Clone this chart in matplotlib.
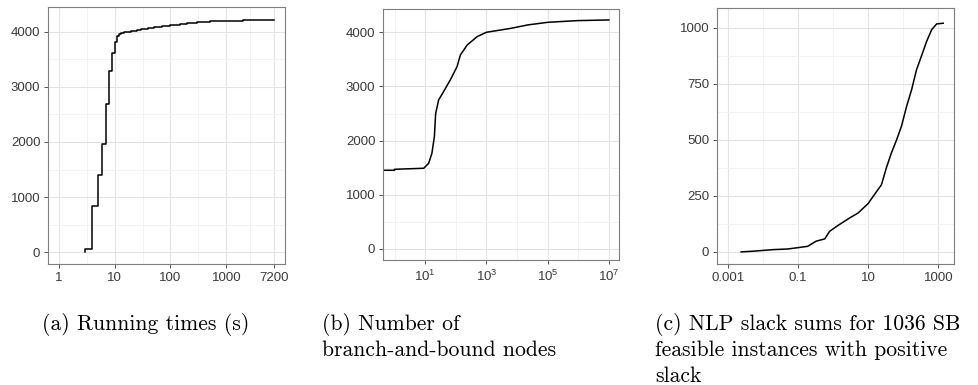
import numpy as np
import matplotlib
matplotlib.use("Agg")
import matplotlib.pyplot as plt
from matplotlib.ticker import FixedLocator, NullFormatter

plt.rcParams['font.family'] = ['Liberation Sans', 'DejaVu Sans']
plt.rcParams['mathtext.fontset'] = 'custom'
plt.rcParams['mathtext.rm'] = 'Liberation Sans'

# (a) running times, cumulative number of instances solved
run_time = [3, 3, 4, 5, 6, 7, 8, 9, 10, 11, 12, 13, 14, 15, 17, 20, 25, 30, 40, 50, 70,
            100, 150, 200, 300, 500, 700, 1000, 2000, 4000, 7200]
run_count = [0, 55, 830, 1406, 1964, 2690, 3297, 3618, 3812, 3921, 3955, 3970, 3980, 3988, 4000, 4015, 4030, 4045, 4068, 4085, 4105,
             4128, 4148, 4162, 4178, 4190, 4197, 4202, 4207, 4210, 4212]
run_ticks = [1, 10, 100, 1000, 7200]
run_labels = ['1', '10', '100', '1000', '7200']

# (b) branch-and-bound nodes (0 nodes is drawn at the panel edge, like -Inf in ggplot)
nodes = [0, 0, 1, 1, 9, 13, 16.6, 20, 22, 27.5, 40, 66, 110, 141, 236, 500, 1000, 6300, 22000, 1e5, 9e5, 1e7]
nodes_count = [0, 1452, 1452, 1470, 1489, 1580, 1766, 2074, 2500, 2750, 2905, 3120, 3366, 3580, 3766, 3920, 4000, 4073, 4135, 4184, 4215, 4228]
nodes_ticks = [1e1, 1e3, 1e5, 1e7]
nodes_labels = [r'$\mathregular{10^{1}}$', r'$\mathregular{10^{3}}$', r'$\mathregular{10^{5}}$', r'$\mathregular{10^{7}}$']

# (c) NLP slack sums
slack = [0.0024, 0.0051, 0.019, 0.051, 0.1, 0.19, 0.33, 0.58, 0.80, 1.38, 3.0, 5.2, 10, 13.9, 24,
         33, 46, 65, 89, 125, 174, 240, 330, 465, 650, 900, 1380]
slack_count = [0, 3, 10, 13, 19, 25, 48, 58, 92, 118, 152, 174, 216, 248, 300,
               375, 442, 501, 561, 650, 725, 814, 874, 940, 993, 1018, 1021]
slack_ticks = [0.001, 0.1, 10, 1000]
slack_labels = ['0.001', '0.1', '10', '1000']

captions = [
    ["(a) Running times (s)"],
    ["(b) Number of", "branch-and-bound nodes"],
    ["(c) NLP slack sums for 1036 SB", "feasible instances with positive", "slack"],
]

W, H = 979, 385
fig = plt.figure(figsize=(W / 100, H / 100), dpi=100)


def panel(box, xlim, ylim, xticks, xlabels, xminor, yticks, yminor):
    l, r, t, b = box
    ax = fig.add_axes([l / W, 1 - b / H, (r - l) / W, (b - t) / H])
    ax.set_xscale('log')
    ax.set_xlim(*xlim)
    ax.set_ylim(*ylim)
    ax.xaxis.set_major_locator(FixedLocator(xticks))
    ax.set_xticklabels(xlabels)
    ax.xaxis.set_minor_locator(FixedLocator(xminor))
    ax.xaxis.set_minor_formatter(NullFormatter())
    ax.set_yticks(yticks)
    ax.set_yticks(yminor, minor=True)
    ax.grid(True, which='minor', color='#F3F3F3', lw=0.7, zorder=0)
    ax.grid(True, which='major', color='#E3E3E3', lw=0.8, zorder=0)
    ax.set_axisbelow(True)
    ax.tick_params(which='minor', length=0)
    ax.tick_params(which='major', length=3, width=0.7, color='#555555',
                   labelsize=9.5, labelcolor='#3A3A3A')
    ax.tick_params(axis='y', pad=2.5)
    ax.tick_params(axis='x', pad=3)
    for s in ax.spines.values():
        s.set_color('#7F7F7F')
        s.set_linewidth(0.8)
    return ax


ax1 = panel((48, 285, 7, 264), (10 ** -0.193, 10 ** 4.05), (-215, 4450),
            run_ticks, run_labels, [10 ** 0.5, 10 ** 1.5, 10 ** 2.5, np.sqrt(1000 * 7200)],
            [0, 1000, 2000, 3000, 4000], [500, 1500, 2500, 3500])
ax1.plot(run_time, run_count, color='black', lw=1.1, drawstyle='steps-post')

xl2 = (10 ** -0.377, 10 ** 7.33)
ax2 = panel((383, 619, 9, 260), xl2, (-205, 4430),
            nodes_ticks, nodes_labels, [1e0, 1e2, 1e4, 1e6],
            [0, 1000, 2000, 3000, 4000], [500, 1500, 2500, 3500])
nodes_x = np.where(np.array(nodes) > 0, nodes, xl2[0])
ax2.plot(nodes_x, nodes_count, color='black', lw=1.1)

ax3 = panel((717, 954, 8, 264), (10 ** -3.307, 10 ** 3.447), (-54, 1089),
            slack_ticks, slack_labels, [0.01, 1, 100],
            [0, 250, 500, 750, 1000], [125, 375, 625, 875])
ax3.plot(slack, slack_count, color='black', lw=1.1)

cap_x = [42, 322, 655]
for x, lines in zip(cap_x, captions):
    for i, line in enumerate(lines):
        fig.text(x / W, 1 - (330.5 + 26 * i) / H, line, family='cmr10',
                 fontsize=15.6, va='baseline', ha='left', color='black')

fig.savefig('out.png', dpi=100)
